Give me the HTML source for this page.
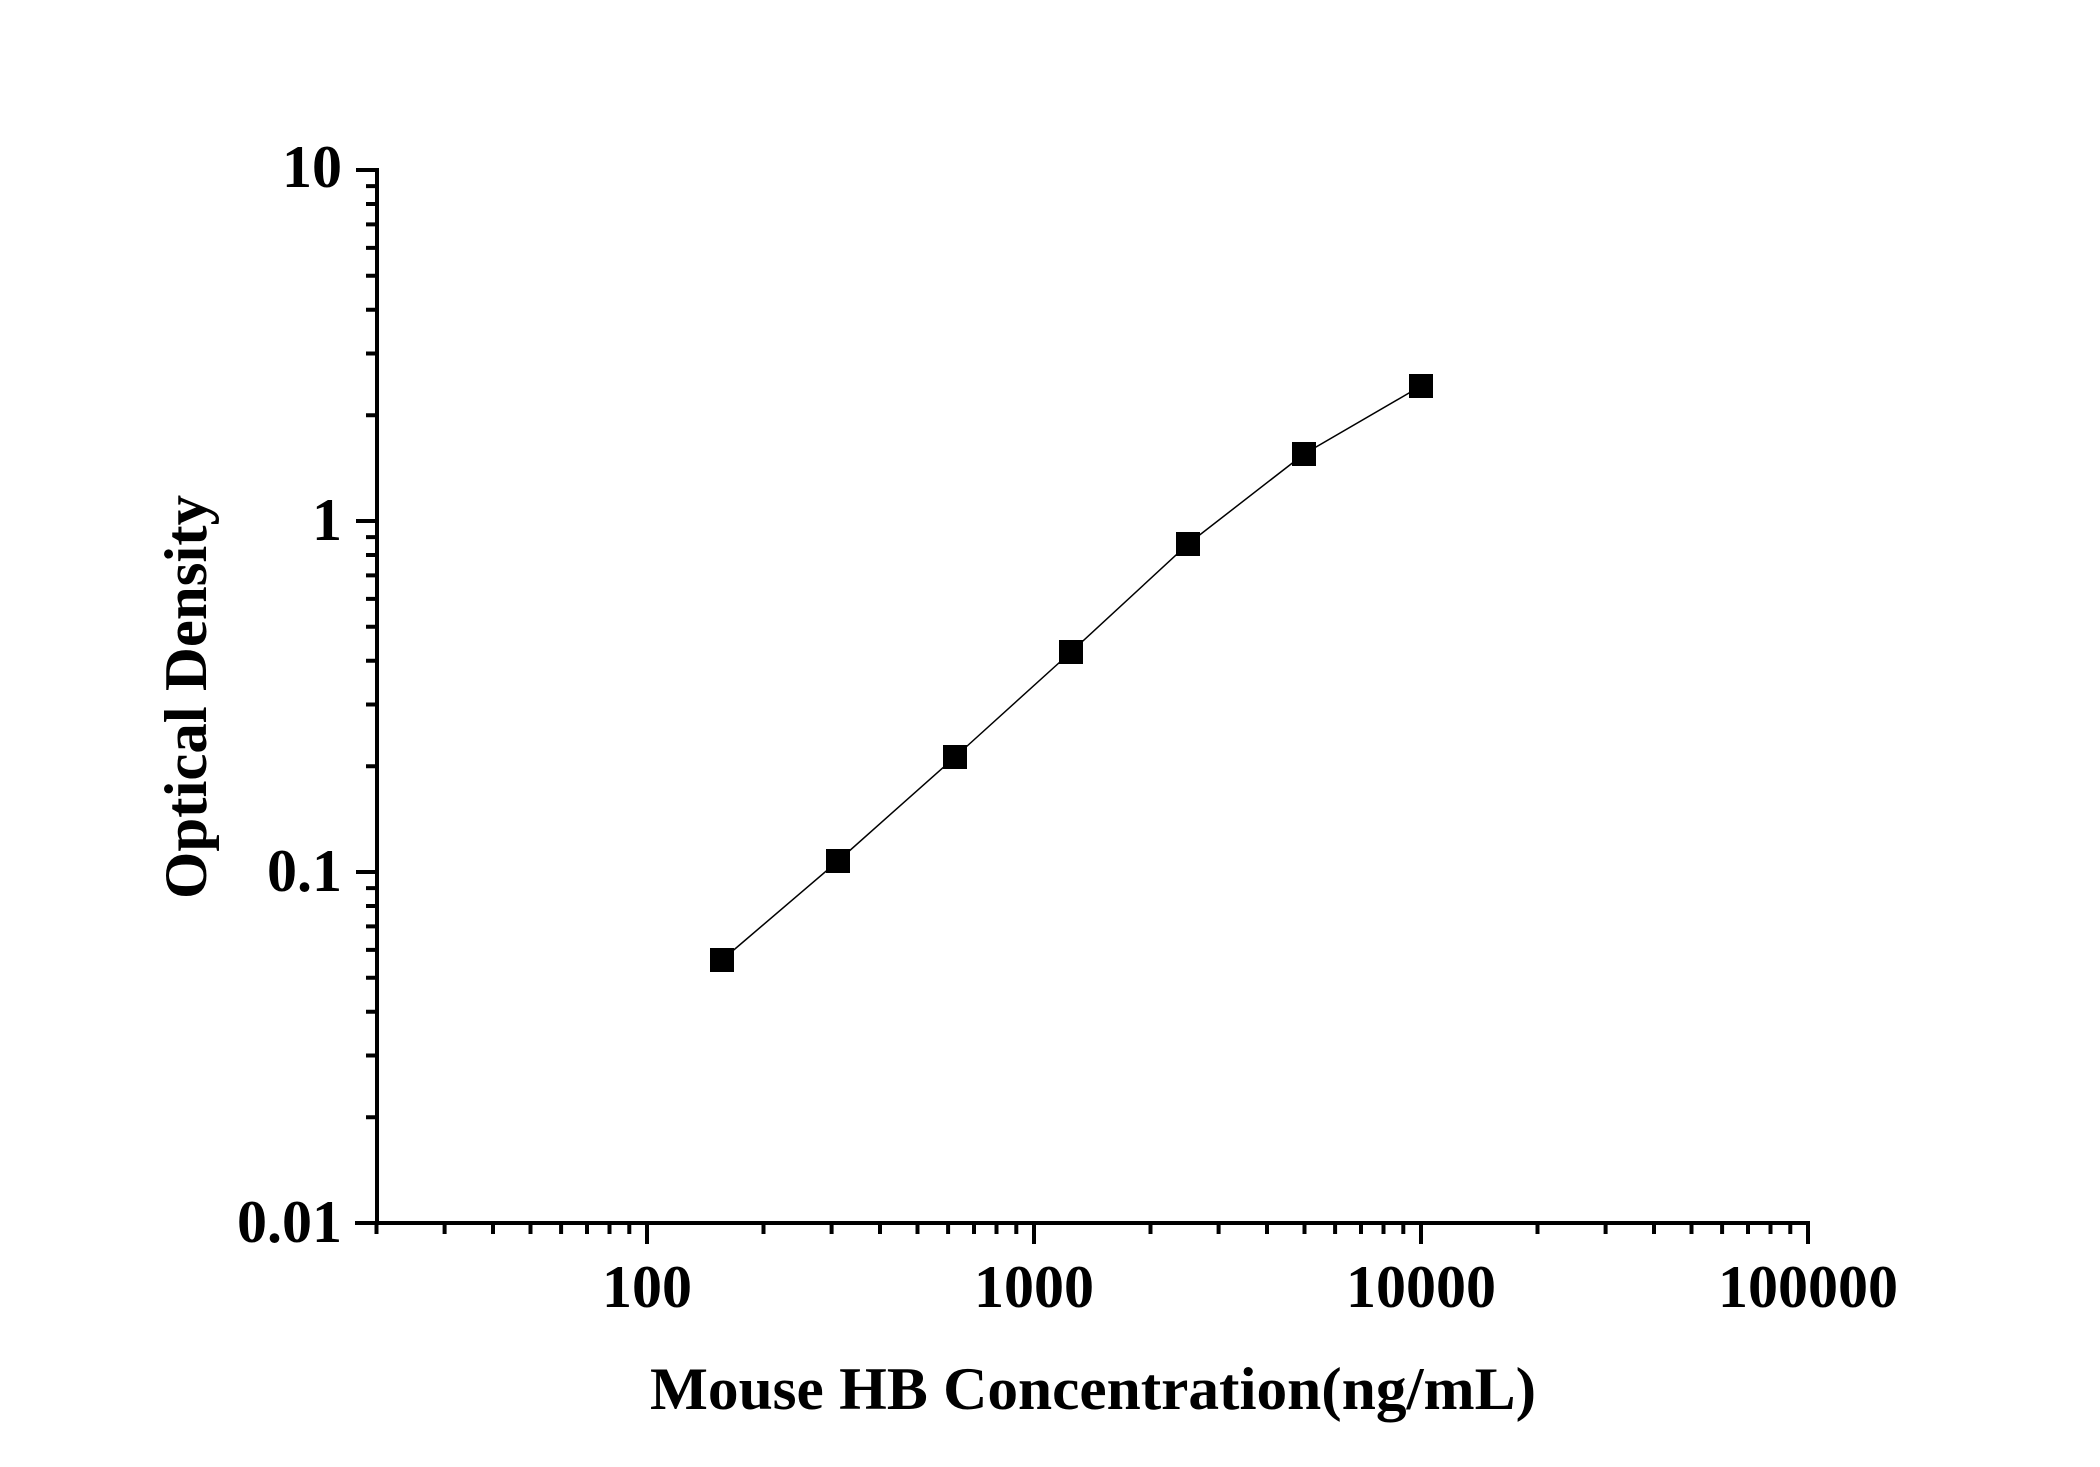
<!DOCTYPE html>
<html><head><meta charset="utf-8"><style>
html,body{margin:0;padding:0;background:#fff;}
svg{display:block;}
text{font-family:"Liberation Serif",serif;font-weight:bold;fill:#000;}
</style></head><body>
<svg width="2100" height="1467" viewBox="0 0 2100 1467" xmlns="http://www.w3.org/2000/svg">
<g stroke="#000" fill="none" stroke-width="4">
<line x1="377" y1="168" x2="377" y2="1225"/>
<line x1="355" y1="1223" x2="1810" y2="1223"/>
<path d="M356 1223H377 M366 1117.3H377 M366 1055.5H377 M366 1011.7H377 M366 977.7H377 M366 949.9H377 M366 926.4H377 M366 906H377 M366 888.1H377
M356 872H377 M366 766.3H377 M366 704.5H377 M366 660.7H377 M366 626.7H377 M366 598.9H377 M366 575.4H377 M366 555H377 M366 537.1H377
M356 521H377 M366 415.3H377 M366 353.5H377 M366 309.7H377 M366 275.7H377 M366 247.9H377 M366 224.4H377 M366 204H377 M366 186.1H377
M356 170H377"/>
<path d="M376.5 1223V1234 M444.6 1223V1234 M493 1223V1234 M530.5 1223V1234 M561.1 1223V1234 M587 1223V1234 M609.5 1223V1234 M629.3 1223V1234
M647 1223V1244 M763.5 1223V1234 M831.6 1223V1234 M880 1223V1234 M917.5 1223V1234 M948.1 1223V1234 M974 1223V1234 M996.5 1223V1234 M1016.3 1223V1234
M1034 1223V1244 M1150.5 1223V1234 M1218.6 1223V1234 M1267 1223V1234 M1304.5 1223V1234 M1335.1 1223V1234 M1361 1223V1234 M1383.5 1223V1234 M1403.3 1223V1234
M1421 1223V1244 M1537.5 1223V1234 M1605.6 1223V1234 M1654 1223V1234 M1691.5 1223V1234 M1722.1 1223V1234 M1748 1223V1234 M1770.5 1223V1234 M1790.3 1223V1234
M1808 1221V1244"/>
<polyline points="722,960 838,861 955,757 1071,652 1188,544 1304,454 1421,386" stroke-width="1.5"/>
</g>
<g fill="#000">
<rect x="710" y="948" width="24" height="24"/>
<rect x="826" y="849" width="24" height="24"/>
<rect x="943" y="745" width="24" height="24"/>
<rect x="1059" y="640" width="24" height="24"/>
<rect x="1176" y="532" width="24" height="24"/>
<rect x="1292" y="442" width="24" height="24"/>
<rect x="1409" y="374" width="24" height="24"/>
</g>
<g font-size="60">
<text x="342" y="187" text-anchor="end">10</text>
<text x="342" y="540" text-anchor="end">1</text>
<text x="342" y="891" text-anchor="end">0.1</text>
<text x="342" y="1242" text-anchor="end">0.01</text>
<text x="647" y="1307" text-anchor="middle">100</text>
<text x="1034" y="1307" text-anchor="middle">1000</text>
<text x="1421" y="1307" text-anchor="middle">10000</text>
<text x="1808" y="1307" text-anchor="middle">100000</text>
</g>
<text x="1093" y="1409" font-size="60" text-anchor="middle" textLength="886" lengthAdjust="spacingAndGlyphs">Mouse HB Concentration(ng/mL)</text>
<text transform="translate(206,697) rotate(-90)" font-size="60" text-anchor="middle" textLength="404" lengthAdjust="spacingAndGlyphs">Optical Density</text>
</svg>
</body></html>
